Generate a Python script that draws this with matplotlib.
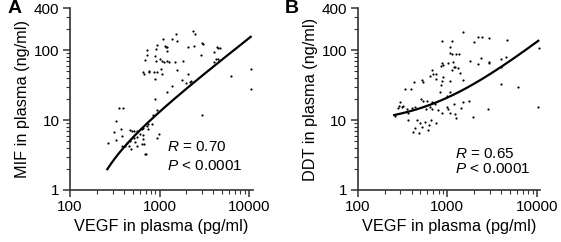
import numpy as np
import matplotlib
matplotlib.use("Agg")
import matplotlib.pyplot as plt
from matplotlib.ticker import FixedLocator, LogLocator, NullFormatter

plt.rcParams['font.family'] = ['Liberation Sans', 'DejaVu Sans']

# panel A: VEGF vs MIF
vegf_a = [2348, 2494, 1517, 1368, 1094, 1570, 929, 914, 1152, 1192, 1224, 1202, 2081, 2428,
          3010, 3035, 2933, 4353, 4506, 4699, 4061, 4278, 4101, 4543, 719, 732, 695, 898, 914,
          1014, 1057, 1123, 1224, 1277, 1490, 1847, 770, 648, 671, 770, 860, 946, 1048, 1066,
          898, 1556, 2081, 1771, 1978, 2192, 2268, 1368, 1202, 6237, 10520, 10440, 898, 946,
          2958, 846, 352, 387, 326, 308, 368, 378, 268, 324, 468, 489, 523, 565, 637, 660, 719,
          750, 605, 660, 824, 979, 937, 468, 519, 528, 433, 415, 460, 481, 556, 632, 671, 689,
          713, 565, 744, 648, 378]
mif = [189, 169, 169, 142, 145, 136, 118, 104, 114, 109, 112, 98, 112, 115,
       127, 122, 86, 109, 106, 108, 93, 74, 67, 74, 100, 85, 72, 82, 69,
       74, 70, 68, 70, 68, 67, 69, 51, 48, 46, 49, 49, 49, 53, 46,
       39, 52, 46, 37, 34, 35, 36, 31, 25, 43, 53, 28, 20, 13.9,
       11.8, 12, 14.7, 15, 9.8, 6.8, 7.5, 5.9, 4.7, 5.2, 7.2, 7.0, 7.0, 7.0, 7.4, 7.6, 8.2,
       8.8, 6.3, 6.1, 8.8, 6.3, 5.6, 5.1, 5.5, 4.9, 4.7, 4.3, 4.2, 3.8, 4.3, 4.5, 4.5, 3.3,
       3.3, 5.8, 7.5, 5.3, 4.2]

# panel B: VEGF vs DDT
vegf_b = [1517, 1142, 868, 1076, 2230, 2427, 2932, 2014, 4623, 1084, 1122, 1245, 1368, 3993,
          4539, 2368, 1816, 2230, 2911, 2958, 868, 891, 846, 1030, 1151, 1191, 1233, 1142,
          1334, 1391, 671, 695, 745, 750, 643, 891, 868, 1076, 1517, 3963, 3980, 338, 394,
          519, 542, 846, 430, 6237, 1771, 1191, 1076, 832, 986, 297, 324, 310, 280, 353, 365,
          401, 437, 510, 542, 590, 671, 731, 643, 575, 683, 783, 868, 986, 1030, 1076, 1225,
          1256, 1416, 1503, 368, 456, 497, 528, 437, 565, 660, 632, 750, 419, 484, 617, 1960,
          2884, 10260, 10620, 261, 290]
ddt = [179, 136, 136, 112, 152, 152, 147, 129, 139, 90, 87, 87, 87, 74,
       79, 78, 69, 63, 67, 65, 66, 62, 60, 65, 67, 58, 57, 52,
       55, 47, 52, 45, 39, 46, 42, 41, 36, 36, 37, 58, 33, 28, 28,
       38, 35, 32, 35, 30, 19, 17, 25, 25, 22, 18, 16, 15.2, 15, 14.2, 12.7,
       14.7, 15.5, 20, 19, 19, 18, 17, 15.2, 14.2, 14.2, 13.9, 12.5, 15.2, 14.2, 12.5, 12.2,
       10.6, 15, 18, 10, 10, 9.0, 8.0, 7.6, 9.5, 10, 8.5, 9.2, 6.8, 6.5, 7.2, 11.2,
       14.2, 15.2, 106, 11.5, 16]

# linear regression lines (slope, intercept, x range)
fit_a = (0.01503, -1.94, 261, 10440)
fit_b = (0.01222, 8.67, 256, 10420)

stats_a = ["0.70", "0.0001"]
stats_b = ["0.65", "0.0001"]


def draw_panel(ax, x, y, fit, stats, ylabel, letter, lx, ry, py):
    ax.scatter(x, y, s=2.5, c='black', linewidths=0, clip_on=False, zorder=3)
    xs = np.geomspace(fit[2], fit[3], 200)
    ax.plot(xs, fit[0] * xs + fit[1], color='black', lw=1.6, clip_on=False)
    ax.set_xscale('log')
    ax.set_yscale('log')
    ax.set_xlim(100, 11000)
    ax.set_ylim(1, 400)
    ax.yaxis.set_major_locator(FixedLocator([1, 10, 100, 400]))
    ax.set_yticklabels(['1', '10', '100', '400'])
    ax.yaxis.set_minor_locator(LogLocator(base=10, subs=np.arange(2, 10)))
    ax.yaxis.set_minor_formatter(NullFormatter())
    ax.xaxis.set_major_locator(FixedLocator([100, 1000, 10000]))
    ax.set_xticklabels(['100', '1000', '10000'])
    ax.xaxis.set_minor_locator(LogLocator(base=10, subs=np.arange(2, 10)))
    ax.xaxis.set_minor_formatter(NullFormatter())
    for s in ['top', 'right']:
        ax.spines[s].set_visible(False)
    for s in ['left', 'bottom']:
        ax.spines[s].set_linewidth(1.2)
        ax.spines[s].set_color('#333333')
    ax.tick_params(which='major', length=5, width=1.1, labelsize=11, color='#333333',
                   pad=2.5)
    ax.tick_params(which='minor', length=3, width=0.8, color='#333333')
    ax.set_xlabel('VEGF in plasma (pg/ml)', fontsize=11.7, labelpad=3)
    ax.set_ylabel(ylabel, fontsize=11.7, labelpad=3)
    ax.text(0.53, ry, r'$R$ = ' + stats[0], transform=ax.transAxes, fontsize=11,
            va='center')
    ax.text(0.53, py, r'$P$ < ' + stats[1], transform=ax.transAxes, fontsize=11,
            va='center')
    ax.text(lx, 1.0, letter, transform=ax.transAxes, fontsize=14, fontweight='bold',
            va='center', ha='left')


plt.rcParams['mathtext.fontset'] = 'custom'
plt.rcParams['mathtext.it'] = 'Liberation Sans:italic'

fig = plt.figure(figsize=(5.61, 2.42), dpi=100)
ax1 = fig.add_axes([0.1248, 0.2149, 0.3257, 0.752])
ax2 = fig.add_axes([0.6376, 0.2149, 0.3257, 0.752])

draw_panel(ax1, vegf_a, mif, fit_a, stats_a, 'MIF in plasma (ng/ml)', 'A', -0.34, 0.235, 0.13)
draw_panel(ax2, vegf_b, ddt, fit_b, stats_b, 'DDT in plasma (ng/ml)', 'B', -0.40, 0.2, 0.115)

fig.savefig('out.png', dpi=100)
